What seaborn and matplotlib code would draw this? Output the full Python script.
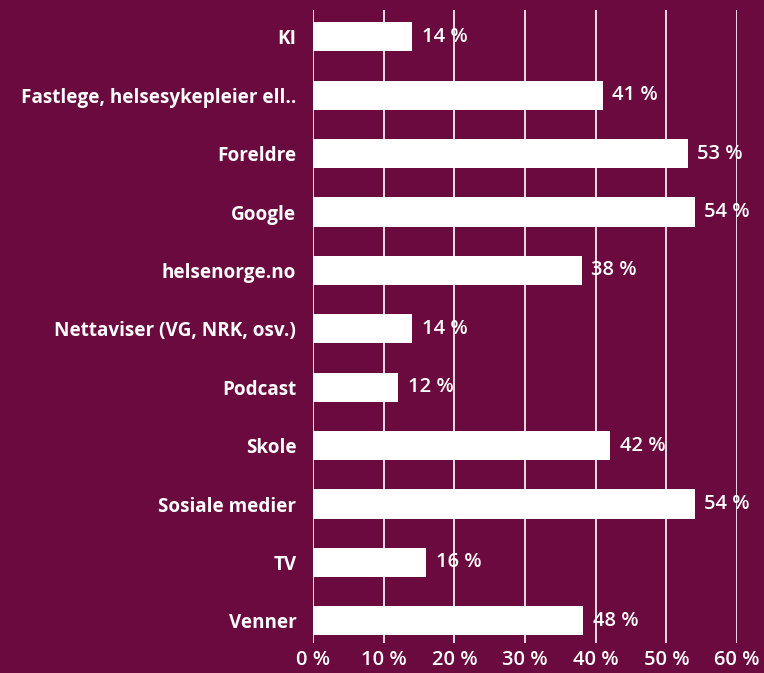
import matplotlib
matplotlib.use("Agg")
import matplotlib.pyplot as plt
import seaborn as sns
import pandas as pd

categories = ["KI", "Fastlege, helsesykepleier ell..", "Foreldre", "Google", "helsenorge.no",
              "Nettaviser (VG, NRK, osv.)", "Podcast", "Skole", "Sosiale medier", "TV", "Venner"]
values = [14, 41, 53, 54, 38, 14, 12, 42, 54, 16, 38.2]
value_labels = ["14 %", "41 %", "53 %", "54 %", "38 %", "14 %", "12 %", "42 %", "54 %", "16 %", "48 %"]
x_ticks = [0, 10, 20, 30, 40, 50, 60]
x_tick_labels = ["0 %", "10 %", "20 %", "30 %", "40 %", "50 %", "60 %"]

BG = "#6B0A3F"
sns.set_theme(style="white")
plt.rcParams["font.family"] = ["Open Sans", "DejaVu Sans"]

df = pd.DataFrame({"cat": categories, "val": values})

fig = plt.figure(figsize=(7.64, 6.73), dpi=100, facecolor=BG)
ax = fig.add_axes([313/764, 1 - 643/673, 424/764, (643 - 10)/673])
ax.set_facecolor(BG)

sns.barplot(data=df, x="val", y="cat", orient="h", color="white", width=0.5,
            saturation=1, ax=ax, zorder=3, edgecolor="none")

ax.set_xlim(0, 60)
ax.set_ylim(10.38, -0.46)
ax.set_xticks(x_ticks)
ax.set_xticklabels(x_tick_labels)
ax.grid(axis="x", color="white", linewidth=1.2, zorder=0)
ax.set_axisbelow(True)
for s in ax.spines.values():
    s.set_visible(False)
ax.set_xlabel("")
ax.set_ylabel("")
ax.tick_params(axis="x", length=0, pad=5, labelsize=14.5, labelcolor="white")
ax.tick_params(axis="y", length=0, pad=12, labelsize=13.6, labelcolor="white")
for lab in ax.get_xticklabels():
    lab.set_fontweight("semibold")
for lab in ax.get_yticklabels():
    lab.set_fontweight("bold")

for i, (v, t) in enumerate(zip(values, value_labels)):
    ax.annotate(t, xy=(v, i), xytext=(7, 0), textcoords="offset points",
                va="center", ha="left", color="white", fontsize=14.5,
                fontweight="semibold", zorder=4)

fig.savefig("out.png", dpi=100, facecolor=BG)
